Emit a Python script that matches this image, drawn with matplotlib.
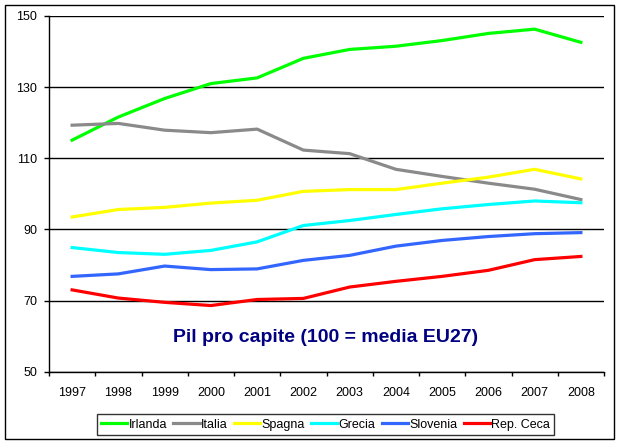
import matplotlib
matplotlib.use("Agg")
import matplotlib.pyplot as plt
from matplotlib.patches import Rectangle
from matplotlib.ticker import FixedLocator

plt.rcParams['font.family'] = ['Liberation Sans', 'DejaVu Sans']

years = ["1997", "1998", "1999", "2000", "2001", "2002",
         "2003", "2004", "2005", "2006", "2007", "2008"]

irlanda = [115.1, 121.6, 126.8, 131.0, 132.6, 138.1, 140.6, 141.5, 143.1, 145.1, 146.3, 142.6]
italia = [119.3, 119.8, 117.9, 117.2, 118.2, 112.3, 111.3, 106.9, 104.9, 103.0, 101.3, 98.4]
spagna = [93.5, 95.6, 96.2, 97.4, 98.2, 100.7, 101.2, 101.2, 103.0, 104.7, 106.9, 104.2]
grecia = [84.9, 83.5, 83.0, 84.1, 86.5, 91.1, 92.5, 94.2, 95.8, 97.0, 98.0, 97.5]
slovenia = [76.8, 77.5, 79.7, 78.7, 78.9, 81.3, 82.7, 85.3, 86.9, 88.0, 88.8, 89.1]
rep_ceca = [73.0, 70.7, 69.5, 68.6, 70.3, 70.6, 73.8, 75.4, 76.8, 78.5, 81.5, 82.4]

series = [
    ("Irlanda", irlanda, "#00ff00"),
    ("Italia", italia, "#8a8a8a"),
    ("Spagna", spagna, "#ffff00"),
    ("Grecia", grecia, "#00ffff"),
    ("Slovenia", slovenia, "#3366ff"),
    ("Rep. Ceca", rep_ceca, "#ff0000"),
]

fig = plt.figure(figsize=(6.2, 4.46), dpi=100)
fig.patch.set_facecolor("white")
ax = fig.add_axes([49 / 620, 1 - 371.7 / 446, 555 / 620, 355.7 / 446])

x = list(range(len(years)))
for name, vals, col in series:
    ax.plot(x, vals, color=col, lw=2.3, label=name, solid_joinstyle="round")

ax.set_xlim(-0.5, len(years) - 0.5)
ax.set_ylim(50, 150)
ax.set_yticks(range(50, 151, 20))
ax.yaxis.grid(True, color="black", lw=1)
ax.set_axisbelow(True)

# category boundaries as major ticks, labels on minor ticks
ax.xaxis.set_major_locator(FixedLocator([i - 0.5 for i in range(len(years) + 1)]))
ax.xaxis.set_minor_locator(FixedLocator(x))
ax.set_xticklabels([], minor=False)
ax.set_xticklabels(years, minor=True)
ax.tick_params(axis="x", which="major", length=3, width=1, color="black")
ax.tick_params(axis="x", which="minor", length=0, pad=11, labelsize=9)
ax.tick_params(axis="y", length=3.5, width=1, pad=5, labelsize=9)

for s in ["top", "right"]:
    ax.spines[s].set_visible(False)
for s in ["left", "bottom"]:
    ax.spines[s].set_color("black")
    ax.spines[s].set_linewidth(1)

ax.text(0.499, 0.095, "Pil pro capite (100 = media EU27)", transform=ax.transAxes,
        ha="center", va="center", fontsize=14, fontweight="bold", color="#000080")

leg = fig.legend(loc="center", bbox_to_anchor=(0.525, 0.048), ncol=6, fontsize=9,
                 frameon=True, fancybox=False, edgecolor="black", handlelength=2.1,
                 handletextpad=0.1, columnspacing=0.5, borderpad=0.35, borderaxespad=0)
leg.get_frame().set_linewidth(1)

fig.patches.append(Rectangle((5 / 620, 1 - 439 / 446), 609 / 620, 434 / 446,
                             transform=fig.transFigure, fill=False,
                             edgecolor="black", lw=1))

fig.savefig("out.png", dpi=100, facecolor="white")
